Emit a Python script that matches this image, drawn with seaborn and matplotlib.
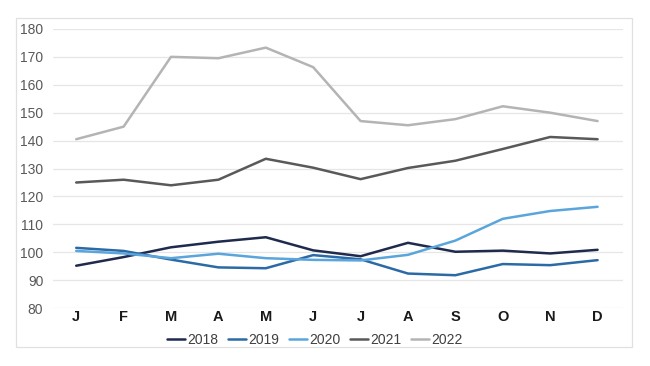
import matplotlib.pyplot as plt
import matplotlib.patches as mpatches
import numpy as np
import pandas as pd
import seaborn as sns

months = ['J', 'F', 'M', 'A', 'M', 'J', 'J', 'A', 'S', 'O', 'N', 'D']
years = ['2018', '2019', '2020', '2021', '2022']

v2018 = [95.2, 98.3, 101.8, 103.8, 105.4, 100.7, 98.6, 103.4, 100.2, 100.6, 99.6, 100.9]
v2019 = [101.6, 100.5, 97.4, 94.6, 94.3, 99.0, 97.5, 92.4, 91.8, 95.8, 95.4, 97.2]
v2020 = [100.5, 99.6, 97.9, 99.5, 97.9, 97.3, 97.1, 99.1, 104.2, 112.0, 114.8, 116.3]
v2021 = [125.0, 126.0, 124.0, 126.0, 133.5, 130.3, 126.2, 130.2, 132.8, 137.0, 141.3, 140.5]
v2022 = [140.5, 145.0, 170.0, 169.5, 173.3, 166.3, 147.0, 145.5, 147.7, 152.3, 150.0, 147.0]

colors = ['#1f2a4d', '#2c6aa6', '#5aa5db', '#595959', '#b4b4b4']

series = [v2018, v2019, v2020, v2021, v2022]
df = pd.concat([
    pd.DataFrame({'month': np.arange(len(months)), 'value': vals, 'year': y})
    for y, vals in zip(years, series)
])

sns.set_style('white')
plt.rcParams['font.family'] = ['Liberation Sans', 'DejaVu Sans']

fig = plt.figure(figsize=(6.5, 3.66), dpi=100)
ax = fig.add_axes([0.0815, 0.158, 0.8765, 0.763])

sns.lineplot(data=df, x='month', y='value', hue='year', palette=colors,
             linewidth=1.8, ax=ax, legend=True)

ax.set_xlim(-0.49, 11.53)
ax.set_ylim(80, 180)
ax.set_yticks(range(80, 181, 10))
ax.set_xticks(range(len(months)))
ax.set_xticklabels(months, fontsize=10.5, fontweight='bold', color='#1a1a1a')
ax.tick_params(axis='y', labelsize=10, labelcolor='#595959', length=0, pad=7)
ax.tick_params(axis='x', length=0, pad=1)
ax.set_xlabel('')
ax.set_ylabel('')
ax.grid(axis='y', color='#e6e6e6', linewidth=0.9)
for s in ax.spines.values():
    s.set_visible(False)

leg = ax.legend(loc='upper center', bbox_to_anchor=(0.46, -0.045), ncol=5, frameon=False,
                fontsize=10, handlelength=1.3, handletextpad=0.15, columnspacing=0.7,
                labelcolor='#404040')

# outer chart border
fig.patches.append(mpatches.Rectangle((16 / 650, 1 - 347 / 366), 616 / 650, 329 / 366,
                                      transform=fig.transFigure, fill=False,
                                      edgecolor='#e0e0e0', linewidth=0.9))

fig.savefig('out.png', dpi=100)
